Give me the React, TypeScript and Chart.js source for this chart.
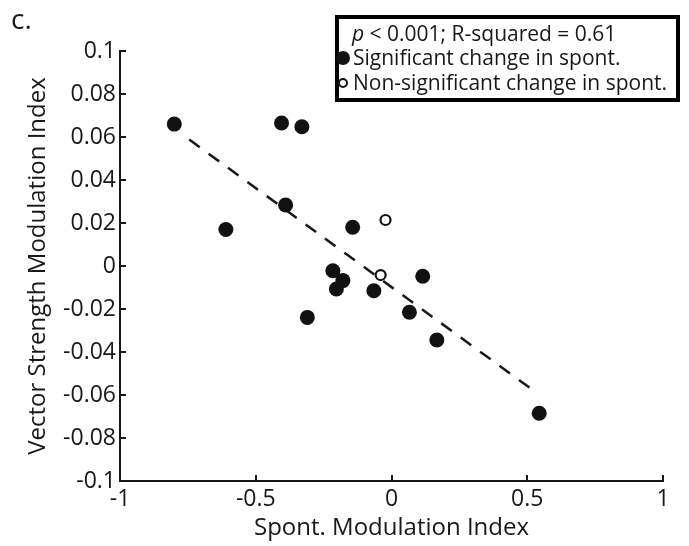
import React, { useEffect, useRef } from "react";
import { Chart, registerables } from "chart.js";

Chart.register(...registerables);

const sigX = [-0.8, -0.61, -0.405, -0.33, -0.39, -0.143, -0.31, -0.216, -0.179, -0.203, -0.065, 0.115, 0.066, 0.167, 0.544];
const sigY = [0.066, 0.017, 0.0665, 0.0648, 0.0284, 0.018, -0.0239, -0.0022, -0.0068, -0.0107, -0.0115, -0.0048, -0.0215, -0.0344, -0.0685];
const nonSigX = [-0.022, -0.04];
const nonSigY = [0.0214, -0.0042];
const fitX = [-0.745, 0.54];
const fitY = [0.0588, -0.0595];

const xTicks = [-1, -0.5, 0, 0.5, 1];
const yTicks = [-0.1, -0.08, -0.06, -0.04, -0.02, 0, 0.02, 0.04, 0.06, 0.08, 0.1];

const panelLabel = "c.";
const statsPrefix = "p";
const statsText = " < 0.001; R-squared = 0.61";
const legendSig = "Significant change in spont.";
const legendNonSig = "Non-significant change in spont.";
const xTitle = "Spont. Modulation Index";
const yTitle = "Vector Strength Modulation Index";

const INK = "#1a1718";
const FONT = "'Open Sans', 'DejaVu Sans', sans-serif";

const zip = (xs: number[], ys: number[]) => xs.map((x, i) => ({ x, y: ys[i] }));

const decorPlugin = {
  id: "decor",
  afterDraw(chart: any) {
    const ctx = chart.ctx as CanvasRenderingContext2D;
    const xs = chart.scales.x;
    const ys = chart.scales.y;
    const area = chart.chartArea;
    ctx.save();
    ctx.strokeStyle = INK;
    ctx.lineWidth = 2;
    const tl = 6;
    for (const v of yTicks) {
      const py = Math.round(ys.getPixelForValue(v));
      ctx.beginPath();
      ctx.moveTo(area.left, py);
      ctx.lineTo(area.left + tl, py);
      ctx.stroke();
    }
    for (const v of xTicks) {
      const px = Math.round(xs.getPixelForValue(v));
      ctx.beginPath();
      ctx.moveTo(px, area.bottom);
      ctx.lineTo(px, area.bottom - tl);
      ctx.stroke();
    }
    ctx.fillStyle = INK;
    ctx.font = `28px ${FONT}`;
    ctx.textBaseline = "alphabetic";
    ctx.textAlign = "left";
    ctx.fillText(panelLabel, 11, 29);
    const bx = 337, by = 17, bw = 341, bh = 83;
    ctx.fillStyle = "#ffffff";
    ctx.fillRect(bx, by, bw, bh);
    ctx.lineWidth = 4;
    ctx.strokeStyle = "#000";
    ctx.strokeRect(bx, by, bw, bh);
    ctx.fillStyle = INK;
    ctx.font = `italic 21px ${FONT}`;
    ctx.fillText(statsPrefix, 352, 41);
    const pw = ctx.measureText(statsPrefix).width;
    ctx.font = `21px ${FONT}`;
    ctx.fillText(statsText, 352 + pw, 41);
    ctx.beginPath();
    ctx.arc(343, 58, 7, 0, Math.PI * 2);
    ctx.fillStyle = "#111";
    ctx.fill();
    ctx.fillStyle = INK;
    ctx.fillText(legendSig, 353, 65);
    ctx.beginPath();
    ctx.arc(343, 83, 4, 0, Math.PI * 2);
    ctx.lineWidth = 2;
    ctx.strokeStyle = "#111";
    ctx.stroke();
    ctx.fillText(legendNonSig, 353, 90);
    ctx.restore();
  },
};

export default function App() {
  const ref = useRef<HTMLCanvasElement | null>(null);
  useEffect(() => {
    if (!ref.current) return;
    const chart = new Chart(ref.current, {
      type: "scatter",
      data: {
        datasets: [
          {
            label: "fit",
            type: "line",
            data: zip(fitX, fitY),
            borderColor: INK,
            borderWidth: 2.5,
            borderDash: [13, 11],
            pointRadius: 0,
            showLine: true,
            fill: false,
            order: 3,
          } as any,
          {
            label: legendSig,
            data: zip(sigX, sigY),
            pointRadius: 7.5,
            pointBackgroundColor: "#111",
            pointBorderColor: "#111",
            pointBorderWidth: 0,
            order: 1,
          },
          {
            label: legendNonSig,
            data: zip(nonSigX, nonSigY),
            pointRadius: 5,
            pointBackgroundColor: "#fff",
            pointBorderColor: "#111",
            pointBorderWidth: 2.2,
            order: 2,
          },
        ],
      },
      options: {
        animation: false,
        responsive: false,
        maintainAspectRatio: false,
        layout: { padding: { top: 51, right: 26, left: 0, bottom: 0 } },
        plugins: { legend: { display: false }, tooltip: { enabled: false } },
        scales: {
          x: {
            type: "linear",
            min: -1,
            max: 1,
            afterBuildTicks: (axis: any) => {
              axis.ticks = xTicks.map((v) => ({ value: v }));
            },
            afterFit: (axis: any) => {
              axis.height = 65;
            },
            grid: { display: false, drawTicks: false },
            border: { display: true, color: INK, width: 2 },
            ticks: {
              color: INK,
              font: { family: FONT, size: 23 },
              padding: 5,
              maxRotation: 0,
              autoSkip: false,
              callback: (v: any) => String(Number(Number(v).toFixed(2))),
            },
            title: {
              display: true,
              text: xTitle,
              color: INK,
              font: { family: FONT, size: 24 },
              padding: { top: 0, bottom: 3 },
            },
          },
          y: {
            type: "linear",
            min: -0.1,
            max: 0.1,
            afterBuildTicks: (axis: any) => {
              axis.ticks = yTicks.map((v) => ({ value: v }));
            },
            afterFit: (axis: any) => {
              axis.width = 120;
            },
            grid: { display: false, drawTicks: false },
            border: { display: true, color: INK, width: 2 },
            ticks: {
              color: INK,
              font: { family: FONT, size: 23 },
              padding: 4,
              autoSkip: false,
              callback: (v: any) => String(Number(Number(v).toFixed(2))),
            },
            title: {
              display: true,
              text: yTitle,
              color: INK,
              font: { family: FONT, size: 24 },
              padding: { top: 24, bottom: 0 },
            },
          },
        },
      },
      plugins: [decorPlugin],
    } as any);
    return () => chart.destroy();
  }, []);
  return (
    <div style={{ position: "absolute", left: 0, top: 0, width: 689, height: 546, background: "#fff" }}>
      <canvas ref={ref} width={689} height={546} style={{ width: 689, height: 546, display: "block" }} />
    </div>
  );
}
